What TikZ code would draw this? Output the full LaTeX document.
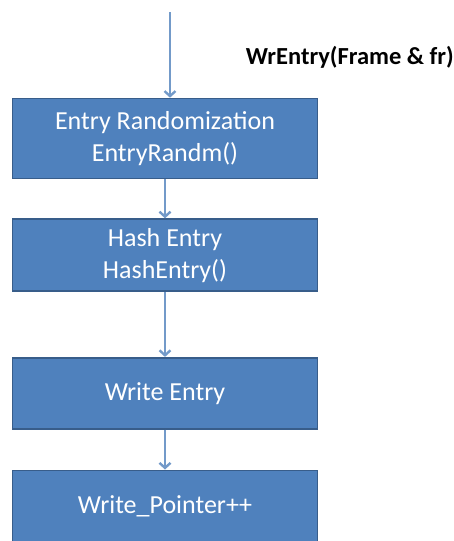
\documentclass[tikz,border=0pt]{standalone}
\usepackage{fontspec}
\setmainfont{Carlito}
\usetikzlibrary{arrows.meta,positioning}
\definecolor{boxblue}{HTML}{4F81BD}
\definecolor{boxedge}{HTML}{385D8A}
\definecolor{arrowblue}{HTML}{739AC9}

\begin{document}
\begin{tikzpicture}[
    x=1pt, y=1pt,
    font=\fontsize{26}{32}\selectfont,
    node distance=0mm,
    stage/.style={draw=boxedge, fill=boxblue, text=white, line width=1.6pt, minimum width=305pt, align=center, inner sep=0pt},
    flow/.style={-{Straight Barb[length=5pt,width=11pt]}, draw=arrowblue, line width=2.4pt}
]
\useasboundingbox (0,0) rectangle (454,-541);

\node[stage, minimum height=80pt] (rand) at (165,-138.5) {Entry Randomization\\EntryRandm()};
\node[stage, minimum height=72pt, below=39pt of rand] (hash) {Hash Entry\\HashEntry()};
\node[stage, minimum height=71pt, below=65pt of hash] (write) {Write Entry};
\node[stage, minimum height=71pt, below=40pt of write] (ptr) {Write\_Pointer++};

\coordinate (start) at (170,-12);
\node[anchor=east, inner sep=0pt, font=\fontsize{24.5}{28}\selectfont\bfseries] (call) at (454,-57) {WrEntry(Frame \& fr)};

\draw[flow] (start) -- (start |- rand.north);
\draw[flow] (rand.south) -- (hash.north);
\draw[flow] (hash.south) -- (write.north);
\draw[flow] (write.south) -- (ptr.north);
\end{tikzpicture}
\end{document}
